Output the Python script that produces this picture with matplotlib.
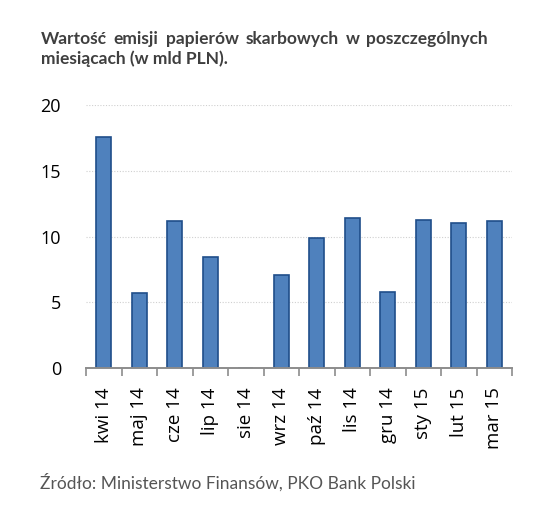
import matplotlib
matplotlib.use("Agg")
import matplotlib.pyplot as plt
from matplotlib.ticker import FixedLocator

categories = ["kwi 14", "maj 14", "cze 14", "lip 14", "sie 14", "wrz 14",
              "paź 14", "lis 14", "gru 14", "sty 15", "lut 15", "mar 15"]
values = [17.6, 5.7, 11.2, 8.45, 0.0, 7.1, 9.9, 11.4, 5.8, 11.25, 11.0, 11.2]
yticks = [0, 5, 10, 15, 20]

title_line1 = "Wartość emisji papierów skarbowych w poszczególnych"
title_line2 = "miesiącach (w mld PLN)."
source = "Źródło: Ministerstwo Finansów, PKO Bank Polski"

fig = plt.figure(figsize=(5.5, 5.16), dpi=100)
ax = fig.add_axes([86/550, 1-368/516, (512-86)/550, (368-105)/516])

x = list(range(len(categories)))
ax.bar(x, values, width=0.43, color="#4F81BD", edgecolor="#1F4E8A", linewidth=1.2, zorder=2)

ax.set_xlim(-0.5, len(categories) - 0.5)
ax.set_ylim(0, 20)
ax.set_yticks(yticks)
ax.set_yticklabels([str(t) for t in yticks], fontsize=13, family="Open Sans")
ax.tick_params(axis="y", length=0, pad=18)
ax.yaxis.grid(True, linestyle=(0, (1, 1.5)), color="#D0D0D0", linewidth=0.8, zorder=0)

ax.set_xticks(x)
ax.set_xticklabels(categories, rotation=90, fontsize=13.5, family="Open Sans")
ax.xaxis.set_minor_locator(FixedLocator([i - 0.5 for i in range(len(categories) + 1)]))
ax.tick_params(axis="x", which="major", length=0, pad=14)
ax.tick_params(axis="x", which="minor", length=6, width=1.2, color="#8C8C8C", direction="out")

for s in ["left", "right", "top"]:
    ax.spines[s].set_visible(False)
ax.spines["bottom"].set_color("#8C8C8C")
ax.spines["bottom"].set_linewidth(1.4)
ax.spines["bottom"].set_zorder(4)

# justified title line 1
fig.canvas.draw()
renderer = fig.canvas.get_renderer()
words = title_line1.split(" ")
tprops = dict(fontsize=12.5, fontweight="bold", color="#3F3F3F", family="Lato")
left_px, right_px = 41, 488
base_y = 1 - 44/516
texts = [fig.text(0, base_y, w, ha="left", va="baseline", **tprops) for w in words]
widths = [t.get_window_extent(renderer).width for t in texts]
gap = (right_px - left_px - sum(widths)) / (len(words) - 1)
pos = left_px
for t, w in zip(texts, widths):
    t.set_x(pos / 550)
    pos += w + gap
fig.text(left_px/550, 1 - 64/516, title_line2, ha="left", va="baseline", **tprops)

fig.text(40/550, 1 - 482/516, source, ha="left", va="center", fontsize=12.5,
         color="#555555", family="Lato")

fig.savefig("out.png", dpi=100)
